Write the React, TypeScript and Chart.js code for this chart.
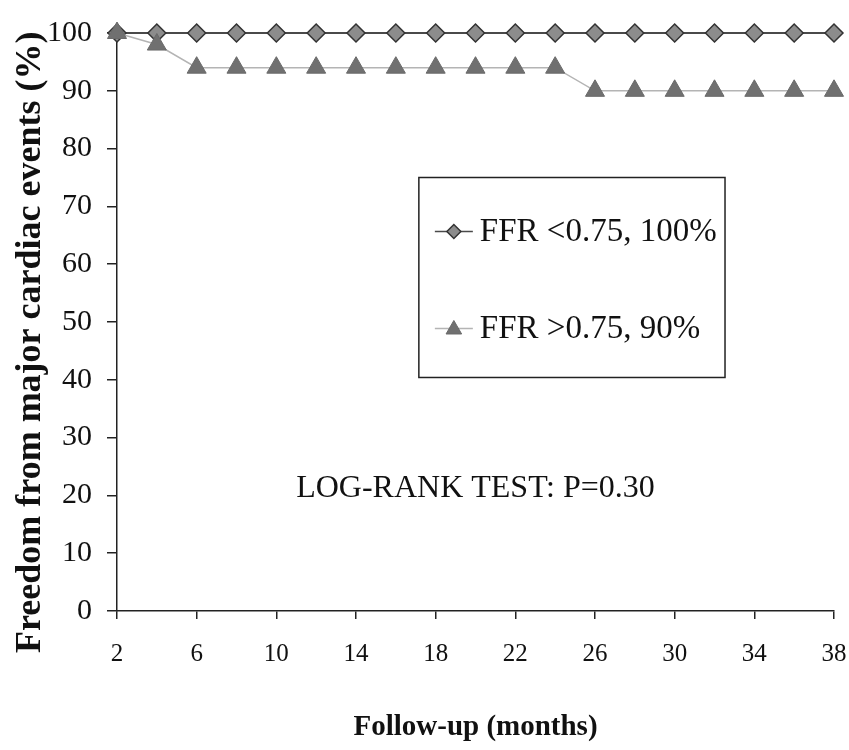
import React, { useEffect, useRef } from "react";
import { Chart, registerables } from "chart.js";

Chart.register(...registerables);

const months = [2, 4, 6, 8, 10, 12, 14, 16, 18, 20, 22, 24, 26, 28, 30, 32, 34, 36, 38];
const ffrLow = [100, 100, 100, 100, 100, 100, 100, 100, 100, 100, 100, 100, 100, 100, 100, 100, 100, 100, 100];
const ffrHigh = [100, 98, 94, 94, 94, 94, 94, 94, 94, 94, 94, 94, 90, 90, 90, 90, 90, 90, 90];
const xTicks = [2, 6, 10, 14, 18, 22, 26, 30, 34, 38];
const seriesLabels = ["FFR <0.75, 100%", "FFR >0.75, 90%"];
const annotationText = "LOG-RANK TEST: P=0.30";
const xTitle = "Follow-up (months)";
const yTitle = "Freedom from major cardiac events (%)";

const SERIF = '"Liberation Serif", "Times New Roman", serif';

function drawMarker(ctx: CanvasRenderingContext2D, style: string, x: number, y: number, r: number) {
  ctx.beginPath();
  if (style === "rectRot") {
    ctx.moveTo(x - r, y);
    ctx.lineTo(x, y - r);
    ctx.lineTo(x + r, y);
    ctx.lineTo(x, y + r);
  } else {
    for (let i = 0; i < 3; i++) {
      const a = (i * 2 * Math.PI) / 3;
      const px = x + Math.sin(a) * r;
      const py = y - Math.cos(a) * r;
      if (i === 0) ctx.moveTo(px, py);
      else ctx.lineTo(px, py);
    }
  }
  ctx.closePath();
  ctx.fill();
  ctx.stroke();
}

const overlayPlugin = {
  id: "overlay",
  afterDraw(chart: any) {
    const { ctx, chartArea } = chart;
    const w = chartArea.right - chartArea.left;
    const h = chartArea.bottom - chartArea.top;
    ctx.save();
    // y axis title
    ctx.save();
    ctx.translate(31, chartArea.top + 0.535 * h);
    ctx.rotate(-Math.PI / 2);
    ctx.fillStyle = "#111";
    ctx.font = `bold 36px ${SERIF}`;
    ctx.textAlign = "center";
    ctx.textBaseline = "middle";
    ctx.fillText(yTitle, 0, 0);
    ctx.restore();
    // legend box
    const bx = chartArea.left + 0.421 * w;
    const by = chartArea.top + 0.25 * h;
    const bw = 0.427 * w;
    const bh = 0.346 * h;
    ctx.fillStyle = "#ffffff";
    ctx.fillRect(bx, by, bw, bh);
    ctx.strokeStyle = "#222";
    ctx.lineWidth = 1.5;
    ctx.strokeRect(bx, by, bw, bh);
    const rows = [by + 0.27 * bh, by + 0.755 * bh];
    chart.data.datasets.forEach((ds: any, i: number) => {
      const cy = rows[i];
      const lx = bx + 16;
      ctx.strokeStyle = ds.borderColor;
      ctx.lineWidth = 1.5;
      ctx.beginPath();
      ctx.moveTo(lx, cy);
      ctx.lineTo(lx + 38, cy);
      ctx.stroke();
      ctx.fillStyle = ds.pointBackgroundColor;
      ctx.strokeStyle = ds.pointBorderColor;
      ctx.lineWidth = ds.pointBorderWidth;
      drawMarker(ctx, ds.pointStyle, lx + 19, cy + (ds.pointStyle === "triangle" ? 1 : 0), ds.pointStyle === "triangle" ? 9 : 7);
      ctx.fillStyle = "#111";
      ctx.font = `33px ${SERIF}`;
      ctx.textAlign = "left";
      ctx.textBaseline = "middle";
      ctx.fillText(ds.label, lx + 45, cy + 1);
    });
    // annotation
    const xs = chart.scales.x;
    const ys = chart.scales.y;
    ctx.fillStyle = "#111";
    ctx.font = `32px ${SERIF}`;
    ctx.textAlign = "center";
    ctx.textBaseline = "middle";
    ctx.fillText(annotationText, xs.getPixelForValue(20), ys.getPixelForValue(21.2));
    ctx.restore();
  },
};

export default function App() {
  const ref = useRef<HTMLCanvasElement | null>(null);
  useEffect(() => {
    if (!ref.current) return;
    const chart = new Chart(ref.current, {
      type: "line",
      data: {
        datasets: [
          {
            label: seriesLabels[0],
            data: months.map((m, i) => ({ x: m, y: ffrLow[i] })),
            borderColor: "#4a4a4a",
            borderWidth: 2,
            pointStyle: "rectRot",
            pointRadius: 9,
            pointBackgroundColor: "#8c8c8c",
            pointBorderColor: "#333333",
            pointBorderWidth: 1.5,
            order: 1,
            clip: false,
          },
          {
            label: seriesLabels[1],
            data: months.map((m, i) => ({ x: m, y: ffrHigh[i] })),
            borderColor: "#b4b4b4",
            borderWidth: 1.5,
            pointStyle: "triangle",
            pointRadius: 11,
            pointBackgroundColor: "#707070",
            pointBorderColor: "#6a6a6a",
            pointBorderWidth: 1,
            order: 0,
            clip: false,
          },
        ] as any,
      },
      options: {
        responsive: false,
        animation: false,
        events: [],
        layout: { padding: { top: 32, right: 15, left: 0, bottom: 0 } },
        plugins: { legend: { display: false }, tooltip: { enabled: false } },
        scales: {
          x: {
            type: "linear",
            min: 2,
            max: 38,
            afterBuildTicks: (axis: any) => {
              axis.ticks = xTicks.map((v) => ({ value: v }));
            },
            afterFit: (scale: any) => {
              scale.height = 139;
              scale.paddingLeft = 0;
              scale.paddingRight = 0;
            },
            ticks: {
              autoSkip: false,
              maxRotation: 0,
              padding: 20,
              color: "#111",
              font: { family: SERIF, size: 25 },
              callback: (v: any) => String(v),
            },
            grid: { drawOnChartArea: false, drawTicks: true, tickLength: 8, color: "#222", lineWidth: 1.5 },
            border: { display: true, color: "#222", width: 1.5 },
            title: {
              display: true,
              text: xTitle,
              color: "#111",
              font: { family: SERIF, size: 29, weight: "bold" },
              padding: { top: 0, bottom: 5 },
            },
          },
          y: {
            min: 0,
            max: 100,
            afterFit: (scale: any) => {
              scale.width = 117;
            },
            ticks: {
              stepSize: 10,
              padding: 15,
              color: "#111",
              font: { family: SERIF, size: 30 },
            },
            grid: { drawOnChartArea: false, drawTicks: true, tickLength: 10, color: "#222", lineWidth: 1.5 },
            border: { display: true, color: "#222", width: 1.5 },
            title: { display: false },
          },
        },
      },
      plugins: [overlayPlugin],
    });
    return () => chart.destroy();
  }, []);
  return (
    <div style={{ position: "absolute", left: 0, top: 0, width: 849, height: 750, background: "#fff" }}>
      <canvas ref={ref} width={849} height={750} />
    </div>
  );
}
